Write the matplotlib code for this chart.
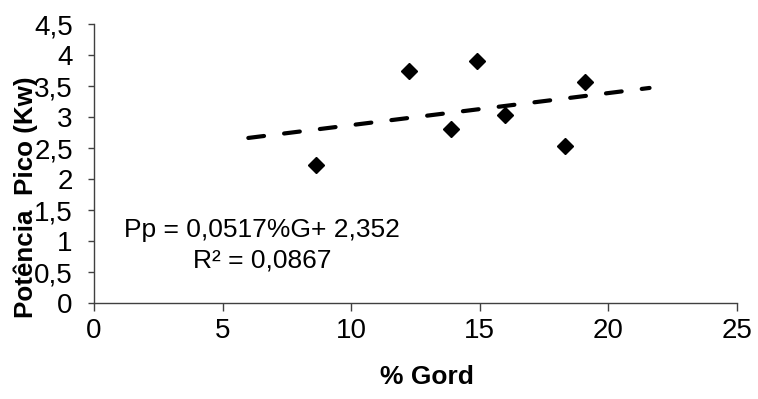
import matplotlib.pyplot as plt
import matplotlib.ticker as mticker
import numpy as np

plt.rcParams['font.family'] = ['Liberation Sans', 'DejaVu Sans']

# measured points (% gordura vs potencia pico)
gord = [8.63, 12.23, 13.89, 14.89, 15.99, 18.30, 19.10]
potencia = [2.23, 3.74, 2.80, 3.91, 3.03, 2.54, 3.56]

# trendline from the reported equation
slope = 0.0517
intercept = 2.352
trend_x = [6.0, 21.6]
eq_text = "Pp = 0,0517%G+ 2,352"
r2_text = "R² = 0,0867"

x_ticks = [0, 5, 10, 15, 20, 25]
y_ticks = [0, 0.5, 1, 1.5, 2, 2.5, 3, 3.5, 4, 4.5]

fig = plt.figure(figsize=(7.58, 3.99), dpi=100)
ax = fig.add_axes([94 / 758, 96 / 399, 643 / 758, 279 / 399])

tx = np.array(trend_x)
ax.plot(tx, slope * tx + intercept, color='black', lw=3.0, dashes=(3.8, 4.85),
        dash_capstyle='round', zorder=2)
ax.plot(gord, potencia, linestyle='none', marker='D', ms=8.5, color='black', zorder=3)

ax.text(6.54, 1.06, eq_text, ha='center', va='baseline', fontsize=19)
ax.text(6.54, 0.58, r2_text, ha='center', va='baseline', fontsize=19)

ax.set_xlim(0, 25)
ax.set_ylim(0, 4.5)
ax.set_xticks(x_ticks)
ax.set_yticks(y_ticks)
comma = mticker.FuncFormatter(lambda v, p: ('%g' % v).replace('.', ','))
ax.xaxis.set_major_formatter(comma)
ax.yaxis.set_major_formatter(comma)

for s in ['top', 'right']:
    ax.spines[s].set_visible(False)
for s in ['left', 'bottom']:
    ax.spines[s].set_color('#404040')
    ax.spines[s].set_linewidth(1.0)
ax.tick_params(axis='x', direction='out', length=6, width=1.0, color='#404040',
               labelsize=20, pad=5)
ax.tick_params(axis='y', direction='out', length=4.3, width=1.0, color='#404040',
               labelsize=20, pad=11)

ax.set_xlabel('% Gord', fontsize=19, fontweight='bold')
ax.set_ylabel('Potência  Pico (Kw)', fontsize=18.7, fontweight='bold')
ax.xaxis.set_label_coords(0.518, -0.222)
ax.yaxis.set_label_coords(-0.087, 0.38)

fig.savefig('out.png', dpi=100)
